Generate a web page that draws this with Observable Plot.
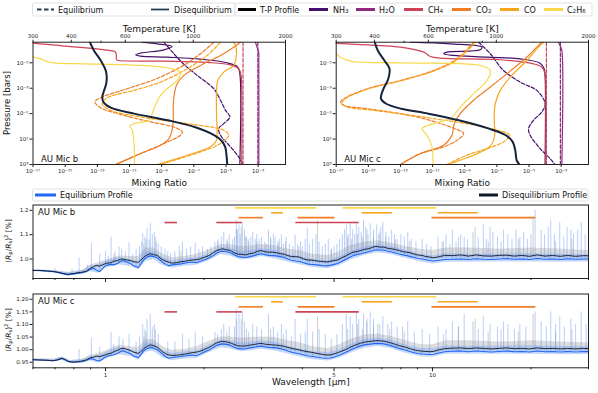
<!DOCTYPE html>
<html><head><meta charset="utf-8">
<script src="https://cdn.jsdelivr.net/npm/d3@7"></script>
<script src="https://cdn.jsdelivr.net/npm/@observablehq/plot@0.6"></script>
<style>
body{margin:0;background:#fff;font-family:"DejaVu Sans",sans-serif;}
#root{position:relative;width:598px;height:393px;overflow:hidden;background:#fff;}
#root svg{position:absolute;left:0;top:0;}
</style></head><body><div id="root"></div>
<script>
// ---------- DATA: top panels (pairs [log10 P(bar), log10 mixing ratio]; T-P pairs [log10 P, T(K)]) ----------
const b_TP=[[-6.62,460],[-5.97,474],[-5.18,499],[-4.40,518],[-3.88,522],[-3.35,520],[-2.83,512],[-2.31,505],[-1.92,509],[-1.47,538],[-1.0,642],[-0.48,825],[0.05,1010],[0.70,1173],[1.09,1233],[1.61,1271],[2.14,1282],[3.0,1291]];
const b_NH3_dis=[[-6.62,-10.21],[-6.49,-9.28],[-6.28,-8.35],[-6.02,-8.86],[-5.76,-10.31],[-5.63,-10.62],[-5.52,-10.31],[-5.44,-8.66],[-5.29,-6.59],[-5.0,-4.93],[-4.66,-4.27],[-4.14,-4.14],[3,-4.14]];
const b_NH3_eq=[[-6.62,-8.86],[-5.71,-8.24],[-5.0,-7.72],[-4.01,-6.79],[-2.96,-5.76],[-2.05,-5.34],[-1.26,-5.03],[-0.74,-4.76],[-0.22,-5.14],[0.18,-5.45],[0.70,-5.34],[1.61,-4.72],[2.40,-4.21],[3,-3.94]];
const b_H2O_dis=[[-6.62,-3.17],[-6.23,-3.07],[-5.84,-2.97],[-5.2,-2.96],[3,-2.96]];
const b_H2O_eq=[[-6.62,-3.02],[3,-3.02]];
const b_CH4_dis=[[-6.62,-17.3],[-6.54,-16.94],[-5.92,-11.97],[-5.84,-11.87],[-5.6,-11.82],[-5.24,-11.80],[-5.18,-11.66],[-5.13,-8.66],[-5.03,-6.17],[-4.84,-4.72],[-4.53,-4.21],[-4.01,-4.06],[-3.09,-4.02],[3,-4.02]];
const b_CH4_eq=[[-6.62,-3.94],[3,-3.94]];
const b_CO2_dis=[[3,-11.87],[2.14,-10.31],[1.48,-9.07],[0.96,-8.55],[0.31,-8.35],[-0.48,-8.28],[-1.52,-8.28],[-2.31,-8.24],[-3.35,-8.04],[-4.01,-7.62],[-4.79,-6.59],[-5.58,-5.34],[-6.23,-4.52],[-6.62,-4.10]];
const b_CO2_eq=[[-6.62,-5.76],[-5.71,-6.59],[-4.66,-7.83],[-3.67,-9.48],[-2.96,-11.14],[-2.25,-12.80],[-1.92,-13.15],[-1.47,-12.80],[-0.87,-11.35],[-0.35,-9.69],[0.10,-8.14],[0.44,-7.72],[0.70,-7.83],[1.35,-8.86],[2.14,-10.31],[3,-11.87]];
const b_CO_dis=[[3,-9.28],[2.27,-7.41],[1.61,-5.96],[1.09,-5.59],[0.31,-5.55],[-1.0,-5.59],[-2.57,-5.59],[-3.61,-5.51],[-4.27,-5.14],[-4.79,-4.52],[-5.71,-4.35],[-6.36,-4.41],[-6.62,-4.52]];
const b_CO_eq=[[-6.62,-5.34],[-5.58,-6.17],[-4.53,-7.41],[-3.48,-9.07],[-2.83,-10.73],[-2.25,-12.38],[-1.78,-12.69],[-1.26,-12.18],[-0.74,-10.31],[-0.22,-7.41],[0.31,-5.14],[0.70,-4.83],[1.35,-5.34],[2.01,-6.59],[3,-9.07]];
const b_C2H6_dis=[[-5.5,-17.5],[-5.44,-17],[-5.31,-16.52],[-5.08,-16.11],[-4.97,-15.59],[-4.92,-13.83],[-4.82,-10.73],[-4.61,-8.66],[-4.27,-7.83],[-3.61,-8.04],[-3.09,-8.55],[-2.44,-9.07],[-1.52,-9.44],[-0.48,-9.80],[-0.22,-10.73],[-0.01,-10.98],[0.31,-10.83],[1.09,-10.73],[2.14,-10.69],[3,-10.69]];

const c_TP=[[-6.62,401],[-5.97,410],[-5.18,431],[-4.53,448],[-3.75,444],[-2.83,426],[-2.18,420],[-1.78,437],[-1.39,489],[-1.0,600],[-0.48,754],[0.18,946],[0.70,1074],[1.22,1131],[1.88,1153],[2.66,1165],[3,1189]];
const c_NH3_dis=[[-6.62,-12.38],[-6.49,-9.90],[-6.23,-7.93],[-6.02,-8.04],[-5.84,-10.11],[-5.71,-10.31],[-5.60,-9.90],[-5.44,-7.62],[-5.31,-5.55],[-4.97,-4.31],[-4.53,-4.06],[-3.88,-4.0],[3,-4.0]];
const c_NH3_eq=[[-6.62,-8.14],[-5.71,-7.41],[-4.40,-6.59],[-3.48,-5.55],[-2.83,-4.52],[-2.05,-4.06],[-1.65,-4.0],[-1.13,-4.21],[-0.48,-4.72],[0.18,-5.03],[0.70,-4.93],[1.75,-4.31],[2.53,-3.69],[3,-3.38]];
const c_H2O_dis=[[-6.62,-3.17],[-6.3,-3.05],[-5.97,-2.96],[3,-2.96]];
const c_H2O_eq=[[-6.62,-3.05],[3,-3.05]];
const c_CH4_dis=[[-6.62,-17.3],[-6.54,-17],[-6.23,-13.0],[-5.84,-11.55],[-5.50,-11.14],[-5.37,-10.52],[-5.24,-6.79],[-4.92,-4.72],[-4.66,-4.21],[-4.14,-4.0],[-3.09,-3.96],[3,-3.96]];
const c_CH4_eq=[[-6.62,-3.92],[3,-3.92]];
const c_CO2_dis=[[3,-13.0],[2.14,-11.76],[1.48,-10.31],[0.70,-9.80],[-0.22,-9.65],[-1.0,-9.28],[-2.05,-8.45],[-3.09,-7.41],[-4.14,-6.38],[-5.44,-5.14],[-6.23,-4.52],[-6.62,-4.21]];
const c_CO2_eq=[[-6.62,-8.45],[-5.31,-9.48],[-4.40,-10.93],[-3.61,-13.0],[-2.96,-15.07],[-2.18,-16.52],[-1.92,-16.73],[-1.65,-16.52],[-1.39,-15.07],[-0.74,-11.97],[0.05,-9.90],[0.57,-9.07],[1.09,-9.48],[1.61,-10.31],[2.14,-11.76],[3,-13.0]];
const c_CO_dis=[[3,-10.11],[2.27,-8.45],[1.56,-7.41],[0.70,-7.14],[-0.48,-7.17],[-1.78,-7.10],[-2.83,-6.79],[-3.88,-6.17],[-5.18,-5.14],[-6.10,-4.52],[-6.49,-4.21],[-6.62,-4.10]];
const c_CO_eq=[[-6.62,-8.35],[-5.31,-9.38],[-4.40,-10.83],[-3.61,-12.9],[-2.96,-14.97],[-2.18,-16.42],[-1.78,-16.63],[-1.52,-16.32],[-1.26,-14.66],[-0.61,-10.93],[0.05,-7.83],[0.70,-6.21],[1.22,-6.59],[1.75,-7.62],[2.27,-8.86],[3,-10.11]];
const c_C2H6_dis=[[-5.8,-17.5],[-5.71,-17],[-5.44,-16.73],[-5.13,-16.11],[-5.03,-15.07],[-4.97,-10.93],[-4.79,-8.04],[-4.40,-7.41],[-3.61,-7.62],[-2.57,-8.45],[-1.52,-9.28],[-0.61,-9.90],[-0.22,-10.93],[0.18,-11.66],[0.70,-11.35],[1.61,-11.04],[3,-10.98]];

const mrTicks=[1e-17,1e-15,1e-13,1e-11,1e-9,1e-7,1e-5,1e-3];
const pTicks=[1e-5,1e-3,1e-1,1e1,1e3];
const tTicks=[300,400,600,1000,2000];
const tMinor=[500,900];

// ---------- DATA: spectra (pairs [wavelength µm, (Rp/Rs)^2 %]) ----------
const b_dis=[[0.60,.953],[0.63,.953],[0.66,.951],[0.69,.949],[0.715,.946],[0.74,.941],[0.765,.937],[0.78,.939],[0.80,.940],[0.82,.944],[0.84,.945],[0.86,.948],[0.875,.950],[0.89,.958],[0.90,.962],[0.92,.969],[0.936,.974],[0.96,.971],[0.99,.979],[1.01,.983],[1.04,.985],[1.06,.991],[1.09,.994],[1.11,.999],[1.13,1.000],[1.16,.996],[1.19,.994],[1.22,.989],[1.26,.987],[1.29,.999],[1.31,1.008],[1.34,1.017],[1.37,1.022],[1.40,1.018],[1.44,1.015],[1.47,1.004],[1.50,.996],[1.53,.991],[1.56,.987],[1.60,.983],[1.65,.985],[1.70,.989],[1.74,.990],[1.79,.994],[1.84,.996],[1.89,.997],[1.94,1.000],[2.00,1.007],[2.08,1.015],[2.14,1.027],[2.19,1.035],[2.24,1.039],[2.28,1.042],[2.34,1.038],[2.41,1.035],[2.47,1.026],[2.54,1.020],[2.61,1.019],[2.69,1.017],[2.76,1.022],[2.83,1.024],[2.91,1.031],[2.99,1.035],[3.07,1.030],[3.16,1.028],[3.24,1.028],[3.33,1.026],[3.42,1.022],[3.52,1.020],[3.61,1.014],[3.71,1.010],[3.81,1.010],[3.92,1.008],[4.03,1.001],[4.14,.996],[4.25,.996],[4.36,.994],[4.48,.991],[4.61,.990],[4.73,.988],[4.86,.990],[5.0,.994],[5.13,.996],[5.27,1.005],[5.42,1.012],[5.57,1.021],[5.72,1.028],[5.88,1.031],[6.04,1.035],[6.2,1.040],[6.37,1.042],[6.55,1.048],[6.72,1.052],[6.9,1.049],[7.1,1.049],[7.3,1.044],[7.49,1.042],[7.7,1.039],[7.91,1.035],[8.13,1.030],[8.35,1.028],[8.58,1.025],[8.81,1.020],[9.05,1.016],[9.3,1.015],[9.55,1.010],[9.81,1.008],[10.08,1.005],[10.36,1.008],[10.9,1.015],[11.5,1.014],[12.2,1.017],[12.9,1.012],[13.6,1.017],[14.3,1.013],[15.1,1.012],[16.0,1.015],[16.8,1.016],[17.8,1.012],[18.8,1.015],[19.8,1.011],[20.9,1.017],[22.1,1.012],[23.3,1.015],[24.6,1.011],[25.9,1.015],[27.4,1.011],[29,1.014],[30,1.013]];
const b_eq=[[0.60,.953],[0.63,.953],[0.66,.951],[0.69,.949],[0.715,.945],[0.74,.940],[0.765,.936],[0.78,.937],[0.80,.939],[0.82,.941],[0.84,.943],[0.86,.946],[0.875,.949],[0.89,.955],[0.90,.958],[0.92,.962],[0.936,.955],[0.96,.948],[0.99,.968],[1.01,.975],[1.04,.978],[1.06,.976],[1.09,.983],[1.11,.990],[1.13,.994],[1.16,.988],[1.19,.982],[1.22,.972],[1.26,.965],[1.29,.985],[1.31,.998],[1.34,1.008],[1.37,1.013],[1.40,1.010],[1.44,1.005],[1.47,.995],[1.50,.985],[1.53,.978],[1.56,.972],[1.60,.976],[1.65,.978],[1.70,.980],[1.74,.983],[1.79,.986],[1.84,.988],[1.89,.985],[1.94,.990],[2.00,.996],[2.08,1.005],[2.14,1.015],[2.19,1.025],[2.24,1.030],[2.28,1.032],[2.34,1.030],[2.41,1.026],[2.47,1.018],[2.54,1.010],[2.61,1.008],[2.69,1.006],[2.76,1.010],[2.83,1.013],[2.91,1.018],[2.99,1.022],[3.07,1.018],[3.16,1.015],[3.24,1.014],[3.33,1.013],[3.42,1.010],[3.52,1.006],[3.61,1.000],[3.71,.995],[3.81,.992],[3.92,.990],[4.03,.985],[4.14,.980],[4.25,.978],[4.36,.977],[4.48,.975],[4.61,.973],[4.73,.972],[4.86,.974],[5.0,.978],[5.13,.982],[5.27,.990],[5.42,.998],[5.57,1.006],[5.72,1.014],[5.88,1.019],[6.04,1.022],[6.2,1.026],[6.37,1.030],[6.55,1.034],[6.72,1.038],[6.9,1.037],[7.1,1.036],[7.3,1.032],[7.49,1.029],[7.7,1.025],[7.91,1.021],[8.13,1.017],[8.35,1.014],[8.58,1.010],[8.81,1.006],[9.05,1.002],[9.3,1.000],[9.55,.997],[9.81,.994],[10.08,.992],[10.36,.994],[10.9,.998],[11.5,.999],[12.2,1.000],[12.9,.998],[13.6,1.001],[14.3,.999],[15.1,.998],[16.0,1.000],[16.8,1.002],[17.8,.999],[18.8,1.000],[19.8,.998],[20.9,1.002],[22.1,.999],[23.3,1.000],[24.6,.998],[25.9,1.001],[27.4,.999],[29,1.000],[30,1.000]];
const c_dis=[[0.60,.960],[0.63,.959],[0.66,.958],[0.69,.956],[0.715,.960],[0.735,.966],[0.75,.962],[0.765,.955],[0.78,.952],[0.80,.951],[0.82,.952],[0.84,.954],[0.86,.957],[0.875,.960],[0.89,.965],[0.90,.968],[0.92,.970],[0.936,.975],[0.96,.972],[0.99,.978],[1.01,.982],[1.04,.986],[1.06,.992],[1.09,.998],[1.11,1.003],[1.13,1.006],[1.16,1.002],[1.19,.997],[1.22,.990],[1.26,.985],[1.29,.995],[1.31,1.005],[1.34,1.013],[1.37,1.019],[1.40,1.016],[1.44,1.010],[1.47,1.000],[1.50,.990],[1.53,.983],[1.56,.979],[1.60,.977],[1.65,.978],[1.70,.980],[1.74,.982],[1.79,.985],[1.84,.988],[1.89,.990],[1.94,.993],[2.00,1.000],[2.08,1.010],[2.14,1.020],[2.19,1.027],[2.24,1.031],[2.28,1.033],[2.34,1.031],[2.41,1.027],[2.47,1.021],[2.54,1.015],[2.61,1.014],[2.69,1.015],[2.76,1.018],[2.83,1.020],[2.91,1.023],[2.99,1.025],[3.07,1.022],[3.16,1.020],[3.24,1.019],[3.33,1.018],[3.42,1.016],[3.52,1.013],[3.61,1.009],[3.71,1.005],[3.81,1.002],[3.92,.999],[4.03,.995],[4.14,.992],[4.25,.990],[4.36,.987],[4.48,.984],[4.61,.981],[4.73,.979],[4.86,.979],[5.0,.983],[5.13,.988],[5.27,.994],[5.42,1.000],[5.57,1.008],[5.72,1.015],[5.88,1.021],[6.04,1.026],[6.2,1.030],[6.37,1.032],[6.55,1.034],[6.72,1.036],[6.9,1.035],[7.1,1.034],[7.3,1.030],[7.49,1.026],[7.7,1.021],[7.91,1.016],[8.13,1.012],[8.35,1.008],[8.58,1.003],[8.81,.999],[9.05,.996],[9.3,.994],[9.55,.993],[9.81,.992],[10.08,.993],[10.36,.998],[10.9,1.004],[11.5,1.006],[12.2,1.007],[12.9,1.004],[13.6,1.007],[14.3,1.005],[15.1,1.003],[16.0,1.005],[16.8,1.007],[17.8,1.004],[18.8,1.005],[19.8,1.003],[20.9,1.007],[22.1,1.004],[23.3,1.005],[24.6,1.003],[25.9,1.005],[27.4,1.003],[29,1.005],[30,1.004]];
const c_eq=[[0.60,.960],[0.63,.959],[0.66,.958],[0.69,.956],[0.715,.959],[0.735,.965],[0.75,.961],[0.765,.954],[0.78,.951],[0.80,.950],[0.82,.951],[0.84,.952],[0.86,.955],[0.875,.958],[0.89,.962],[0.90,.964],[0.92,.962],[0.936,.958],[0.96,.955],[0.99,.968],[1.01,.974],[1.04,.978],[1.06,.980],[1.09,.986],[1.11,.992],[1.13,.996],[1.16,.990],[1.19,.984],[1.22,.975],[1.26,.968],[1.29,.984],[1.31,.996],[1.34,1.004],[1.37,1.009],[1.40,1.006],[1.44,1.000],[1.47,.990],[1.50,.980],[1.53,.972],[1.56,.966],[1.60,.969],[1.65,.971],[1.70,.973],[1.74,.975],[1.79,.977],[1.84,.979],[1.89,.976],[1.94,.982],[2.00,.990],[2.08,1.000],[2.14,1.010],[2.19,1.017],[2.24,1.021],[2.28,1.023],[2.34,1.021],[2.41,1.017],[2.47,1.010],[2.54,1.004],[2.61,1.003],[2.69,1.004],[2.76,1.007],[2.83,1.009],[2.91,1.012],[2.99,1.014],[3.07,1.011],[3.16,1.009],[3.24,1.008],[3.33,1.007],[3.42,1.004],[3.52,1.000],[3.61,.995],[3.71,.990],[3.81,.987],[3.92,.984],[4.03,.980],[4.14,.976],[4.25,.974],[4.36,.972],[4.48,.969],[4.61,.967],[4.73,.966],[4.86,.967],[5.0,.971],[5.13,.976],[5.27,.982],[5.42,.989],[5.57,.997],[5.72,1.004],[5.88,1.010],[6.04,1.015],[6.2,1.019],[6.37,1.021],[6.55,1.023],[6.72,1.025],[6.9,1.024],[7.1,1.023],[7.3,1.019],[7.49,1.015],[7.7,1.010],[7.91,1.005],[8.13,1.001],[8.35,.997],[8.58,.992],[8.81,.988],[9.05,.985],[9.3,.983],[9.55,.982],[9.81,.981],[10.08,.982],[10.36,.986],[10.9,.992],[11.5,.994],[12.2,.995],[12.9,.992],[13.6,.995],[14.3,.993],[15.1,.991],[16.0,.993],[16.8,.995],[17.8,.992],[18.8,.993],[19.8,.991],[20.9,.995],[22.1,.992],[23.3,.993],[24.6,.991],[25.9,.993],[27.4,.991],[29,.993],[30,.992]];
// high-resolution envelopes [wavelength, low, high]
const b_disEnv=[[0.6,.950,.956],[0.7,.944,.952],[0.77,.933,.945],[0.85,.942,.955],[0.9,.955,.975],[0.95,.963,.985],[1.0,.972,.995],[1.1,.985,1.012],[1.2,.983,1.01],[1.26,.978,1.01],[1.33,1.0,1.045],[1.4,1.008,1.045],[1.5,.988,1.02],[1.6,.976,1.005],[1.75,.982,1.01],[1.9,.99,1.02],[2.05,1.0,1.035],[2.25,1.03,1.06],[2.4,1.025,1.06],[2.6,1.01,1.05],[2.8,1.012,1.055],[3.0,1.025,1.06],[3.3,1.016,1.055],[3.6,1.004,1.04],[3.9,.998,1.035],[4.3,.985,1.02],[4.8,.98,1.015],[5.2,.99,1.03],[5.6,1.01,1.055],[6.2,1.03,1.07],[6.8,1.04,1.075],[7.5,1.032,1.065],[8.3,1.018,1.05],[9.2,1.005,1.04],[10,.998,1.035],[11,1.004,1.045],[13,1.004,1.045],[16,1.004,1.04],[20,1.004,1.045],[25,1.003,1.04],[30,1.004,1.035]];
const b_eqEnv=[[0.6,.949,.956],[0.7,.942,.952],[0.77,.930,.944],[0.85,.937,.952],[0.9,.948,.97],[0.95,.942,.975],[1.0,.962,.99],[1.1,.975,1.005],[1.2,.968,.998],[1.26,.955,.985],[1.33,.99,1.03],[1.4,.998,1.03],[1.5,.972,1.005],[1.6,.962,.992],[1.75,.97,1.0],[1.9,.974,1.005],[2.05,.99,1.02],[2.25,1.018,1.048],[2.4,1.012,1.045],[2.6,.996,1.03],[2.8,1.0,1.035],[3.0,1.01,1.042],[3.3,1.0,1.035],[3.6,.988,1.02],[3.9,.978,1.01],[4.3,.965,.998],[4.8,.96,.993],[5.2,.972,1.008],[5.6,.995,1.03],[6.2,1.014,1.048],[6.8,1.026,1.058],[7.5,1.018,1.05],[8.3,1.002,1.035],[9.2,.988,1.02],[10,.98,1.012],[11,.987,1.022],[13,.987,1.02],[16,.988,1.02],[20,.988,1.022],[25,.987,1.02],[30,.988,1.018]];
const c_disEnv=[[0.6,.957,.963],[0.7,.954,.962],[0.735,.96,.972],[0.78,.948,.957],[0.85,.95,.962],[0.9,.96,.978],[0.95,.965,.985],[1.0,.972,.995],[1.1,.99,1.018],[1.2,.988,1.012],[1.26,.976,1.008],[1.33,1.0,1.04],[1.4,1.005,1.04],[1.5,.982,1.012],[1.6,.97,.998],[1.75,.974,1.002],[1.9,.982,1.012],[2.05,.995,1.03],[2.25,1.02,1.05],[2.4,1.017,1.05],[2.6,1.005,1.045],[2.8,1.01,1.048],[3.0,1.015,1.05],[3.3,1.008,1.048],[3.6,.998,1.035],[3.9,.99,1.028],[4.3,.978,1.012],[4.8,.97,1.005],[5.2,.982,1.02],[5.6,1.0,1.04],[6.2,1.02,1.058],[6.8,1.026,1.062],[7.5,1.018,1.052],[8.3,1.0,1.035],[9.2,.985,1.02],[10,.984,1.02],[11,.995,1.035],[13,.995,1.035],[16,.995,1.03],[20,.995,1.035],[25,.994,1.03],[30,.995,1.026]];
const c_eqEnv=[[0.6,.956,.963],[0.7,.953,.962],[0.735,.958,.97],[0.78,.945,.956],[0.85,.946,.96],[0.9,.955,.974],[0.95,.946,.975],[1.0,.962,.99],[1.1,.98,1.01],[1.2,.972,1.0],[1.26,.958,.99],[1.33,.99,1.025],[1.4,.994,1.025],[1.5,.967,.998],[1.6,.956,.985],[1.75,.963,.992],[1.9,.965,.995],[2.05,.985,1.015],[2.25,1.008,1.038],[2.4,1.004,1.035],[2.6,.992,1.025],[2.8,.996,1.03],[3.0,1.002,1.034],[3.3,.995,1.03],[3.6,.983,1.015],[3.9,.972,1.005],[4.3,.96,.992],[4.8,.955,.988],[5.2,.966,1.0],[5.6,.985,1.02],[6.2,1.006,1.04],[6.8,1.013,1.045],[7.5,1.004,1.036],[8.3,.985,1.018],[9.2,.972,1.005],[10,.97,1.004],[11,.982,1.015],[13,.982,1.014],[16,.982,1.014],[20,.982,1.016],[25,.98,1.013],[30,.981,1.012]];
// high-resolution spikes [wavelength, base, top]
const b_eqSpikes=[[0.70,.950,.962],[0.79,.938,.958],[0.83,.942,1.004],[0.88,.950,.975],[0.905,.958,1.063],[0.96,.950,1.02],[1.0,.975,1.03],[1.02,.976,1.01],[1.04,.978,1.09],[1.06,.976,1.02],[1.10,.986,1.05],[1.12,.99,1.04],[1.15,.99,1.03],[1.18,.984,1.066],[1.21,.975,1.02],[1.24,.968,1.04],[1.27,.97,1.05],[1.29,.985,1.07],[1.30,.99,1.104],[1.32,.995,1.09],[1.34,1.005,1.125],[1.36,1.01,1.08],[1.37,1.01,1.145],[1.39,1.01,1.10],[1.41,1.008,1.11],[1.43,1.005,1.07],[1.45,1.0,1.06],[1.48,.993,1.05],[1.52,.98,1.04],[1.55,.975,1.03],[1.58,.973,1.02],[1.63,.977,1.03],[1.68,.979,1.05],[1.72,.982,1.07],[1.77,.984,1.04],[1.82,.987,1.05],[1.88,.986,1.066],[1.93,.99,1.04],[1.98,.994,1.05],[2.05,1.0,1.04],[2.1,1.007,1.05],[2.16,1.018,1.07],[2.21,1.027,1.08],[2.26,1.03,1.09],[2.30,1.03,1.11],[2.36,1.03,1.07],[2.39,1.027,1.10],[2.45,1.02,1.08],[2.48,1.017,1.09],[2.51,1.012,1.159],[2.53,1.01,1.12],[2.56,1.01,1.14],[2.58,1.009,1.10],[2.62,1.008,1.15],[2.66,1.006,1.12],[2.70,1.006,1.09],[2.74,1.009,1.07],[2.78,1.011,1.09],[2.82,1.013,1.11],[2.87,1.015,1.08],[2.9,1.017,1.10],[2.95,1.02,1.08],[3.0,1.021,1.09],[3.07,1.018,1.07],[3.1,1.017,1.06],[3.15,1.015,1.118],[3.2,1.014,1.08],[3.26,1.014,1.10],[3.30,1.013,1.09],[3.36,1.012,1.07],[3.4,1.011,1.08],[3.45,1.01,1.10],[3.5,1.006,1.06],[3.57,1.003,1.09],[3.65,.998,1.06],[3.74,.994,1.05],[3.80,.992,1.097],[3.87,.991,1.06],[3.95,.99,1.07],[4.0,.986,1.05],[4.08,.983,1.08],[4.14,.98,1.125],[4.2,.979,1.06],[4.30,.978,1.08],[4.4,.976,1.10],[4.50,.975,1.07],[4.6,.973,1.05],[4.7,.972,1.06],[4.80,.972,1.08],[4.9,.975,1.04],[5.0,.978,1.05],[5.1,.981,1.06],[5.2,.986,1.08],[5.3,.99,1.10],[5.38,.994,1.12],[5.45,.998,1.14],[5.52,1.003,1.10],[5.6,1.006,1.15],[5.7,1.013,1.12],[5.78,1.016,1.10],[5.85,1.018,1.145],[5.95,1.02,1.13],[6.05,1.022,1.11],[6.15,1.024,1.159],[6.25,1.027,1.13],[6.35,1.03,1.10],[6.45,1.032,1.145],[6.6,1.035,1.12],[6.75,1.038,1.14],[6.85,1.037,1.10],[6.95,1.037,1.13],[7.05,1.036,1.15],[7.2,1.034,1.11],[7.35,1.031,1.09],[7.5,1.029,1.118],[7.65,1.025,1.10],[7.8,1.023,1.08],[8.0,1.02,1.10],[8.2,1.016,1.09],[8.4,1.014,1.11],[8.6,1.01,1.08],[8.9,1.005,1.07],[9.3,1.0,1.08],[9.6,.997,1.06],[9.9,.994,1.05],[10.4,.994,1.09],[10.7,.996,1.07],[11.0,.998,1.10],[11.5,.999,1.118],[11.8,1.0,1.07],[12.2,1.0,1.10],[12.5,1.0,1.09],[12.8,.998,1.08],[13.3,1.0,1.11],[13.8,1.0,1.09],[14.3,.999,1.14],[14.6,.999,1.08],[15.0,.998,1.13],[15.3,.998,1.11],[15.8,1.0,1.09],[16.5,1.001,1.12],[17.0,1.0,1.10],[17.5,1.0,1.08],[18.0,.999,1.12],[18.5,1.0,1.09],[19.0,1.0,1.11],[19.5,.998,1.08],[20.0,.998,1.10],[20.6,1.0,1.20],[21.5,1.0,1.12],[22.0,.999,1.10],[22.6,1.0,1.13],[23.0,1.0,1.16],[23.6,1.0,1.10],[24.5,.998,1.15],[25.2,1.0,1.09],[25.8,1.001,1.13],[26.5,1.0,1.12],[27.0,.999,1.10],[27.8,.999,1.12],[28.5,1.0,1.15],[29.3,1.0,1.10]];
const b_disSpikes=[[1.07,.992,1.03],[1.31,1.008,1.06],[1.33,1.01,1.08],[1.42,1.015,1.09],[1.7,.989,1.03],[2.2,1.035,1.07],[2.35,1.038,1.08],[2.52,1.02,1.12],[2.6,1.018,1.13],[2.68,1.017,1.09],[2.73,1.017,1.08],[2.9,1.031,1.07],[3.2,1.027,1.09],[3.38,1.024,1.06],[3.55,1.02,1.07],[3.9,1.008,1.05],[4.45,.993,1.159],[4.9,.99,1.04],[5.5,1.015,1.09],[5.65,1.025,1.08],[5.9,1.03,1.10],[6.1,1.036,1.09],[6.3,1.04,1.12],[6.6,1.048,1.09],[6.9,1.05,1.11],[7.2,1.047,1.09],[7.7,1.038,1.08],[8.5,1.026,1.07],[10.8,1.014,1.07],[11.3,1.014,1.06],[12.0,1.016,1.09],[13.5,1.016,1.13],[14.8,1.013,1.07],[16.2,1.014,1.07],[18.3,1.014,1.08],[20.3,1.016,1.17],[23.8,1.014,1.07],[26.7,1.012,1.08]];
const c_eqSpikes=[[0.72,.959,.968],[0.83,.951,1.0],[0.905,.962,1.045],[0.96,.955,1.01],[1.04,.978,1.07],[1.06,.98,1.02],[1.10,.988,1.05],[1.13,.996,1.04],[1.18,.986,1.06],[1.24,.97,1.03],[1.27,.97,1.05],[1.30,.99,1.10],[1.32,.996,1.08],[1.34,1.004,1.12],[1.37,1.009,1.14],[1.39,1.008,1.09],[1.41,1.006,1.10],[1.45,.998,1.06],[1.55,.97,1.03],[1.63,.97,1.03],[1.72,.974,1.06],[1.80,.977,1.04],[1.88,.978,1.07],[1.98,.986,1.05],[2.16,1.012,1.07],[2.26,1.022,1.08],[2.30,1.022,1.10],[2.39,1.018,1.09],[2.48,1.01,1.09],[2.51,1.005,1.16],[2.56,1.004,1.14],[2.62,1.003,1.15],[2.66,1.004,1.11],[2.74,1.006,1.07],[2.82,1.009,1.10],[2.9,1.012,1.09],[3.0,1.014,1.08],[3.15,1.009,1.14],[3.26,1.008,1.09],[3.36,1.006,1.07],[3.45,1.004,1.10],[3.57,.997,1.08],[3.70,.99,1.05],[3.80,.987,1.12],[3.95,.983,1.06],[4.08,.978,1.07],[4.14,.976,1.12],[4.3,.973,1.07],[4.50,.969,1.08],[4.7,.966,1.06],[4.9,.968,1.04],[5.1,.975,1.06],[5.3,.985,1.10],[5.45,.989,1.14],[5.6,.997,1.13],[5.7,1.004,1.10],[5.85,1.008,1.15],[5.95,1.012,1.12],[6.15,1.016,1.14],[6.3,1.02,1.11],[6.45,1.021,1.15],[6.6,1.023,1.12],[6.8,1.025,1.10],[7.05,1.023,1.13],[7.3,1.019,1.10],[7.5,1.015,1.11],[7.8,1.008,1.09],[8.1,1.001,1.09],[8.4,.997,1.11],[8.8,.988,1.07],[9.3,.983,1.08],[9.8,.981,1.06],[10.4,.986,1.09],[11.0,.993,1.08],[11.5,.994,1.11],[12.0,.995,1.09],[12.5,.995,1.14],[13.3,.994,1.11],[13.8,.995,1.08],[14.3,.993,1.13],[15.0,.991,1.10],[15.8,.993,1.09],[16.5,.995,1.11],[17.0,.995,1.10],[17.8,.992,1.08],[18.5,.993,1.10],[19.3,.991,1.09],[20.6,.995,1.15],[21.5,.995,1.11],[22.3,.992,1.09],[23.0,.993,1.15],[23.8,.993,1.10],[24.5,.992,1.13],[25.3,.993,1.09],[26.5,.993,1.12],[27.4,.991,1.10],[28.5,.993,1.15],[29.5,.993,1.10]];
const c_disSpikes=[[1.31,1.005,1.05],[1.33,1.013,1.07],[1.42,1.012,1.08],[2.2,1.027,1.06],[2.35,1.031,1.07],[2.52,1.015,1.12],[2.6,1.014,1.12],[2.7,1.015,1.08],[3.2,1.02,1.08],[3.5,1.013,1.06],[4.45,.985,1.13],[5.5,1.005,1.08],[5.9,1.022,1.10],[6.1,1.027,1.08],[6.3,1.03,1.12],[6.6,1.034,1.09],[6.9,1.035,1.10],[7.4,1.028,1.08],[8.2,1.01,1.07],[10.8,1.004,1.06],[12.0,1.007,1.09],[13.5,1.007,1.12],[14.8,1.004,1.07],[16.2,1.005,1.08],[18.3,1.005,1.07],[20.3,1.007,1.14],[23.8,1.005,1.07],[26.7,1.003,1.08]];
// molecular band markers [start µm, end µm]
const bandCH4=[[1.52,1.66],[2.19,2.62],[3.82,5.97]];
const bandCO2=[[2.56,3.04],[3.88,5.03],[9.96,20.7]];
const bandCO=[[3.22,3.50],[6.09,7.54],[10.4,13.8]];
const bandC2H6=[[2.50,4.42],[5.33,10.3]];
const bandLevels={CH4:1.15,CO2:1.17,CO:1.19,C2H6:1.21};
const bTicks=[1.0,1.1,1.2];
const cTicks=[0.95,1.00,1.05,1.10,1.15,1.20];
const wlMajor=[1,5,10];
const wlMinor=[0.6,0.7,0.8,0.9,2,3,4,6,7,8,9,20,30];

// ---------- styling ----------
const COL={NH3:"#45106b",H2O:"#8f2a7e",CH4:"#cc4356",CO2:"#f07c26",CO:"#f8a51e",C2H6:"#f8d849"};
const TPCOL="#15243a", DISCOL="#2a3d52", EQBLUE="#1f66f2";
const W=598,H=393;
const root=document.getElementById("root");
const FONT="DejaVu Sans, sans-serif";
const style={background:"transparent",fontFamily:FONT,fontSize:"5.5px",color:"#222",overflow:"visible"};
const SUP={"0":"⁰","1":"¹","2":"²","3":"³","4":"⁴","5":"⁵","6":"⁶","7":"⁷","8":"⁸","9":"⁹","-":"⁻"};
const fmtExp=d=>"10"+String(Math.round(Math.log10(d))).split("").map(c=>SUP[c]).join("");
function add(el){el.style.position="absolute";el.style.left="0px";el.style.top="0px";root.appendChild(el);}

const sets={
 b:{TP:b_TP,NH3:[b_NH3_eq,b_NH3_dis],H2O:[b_H2O_eq,b_H2O_dis],CH4:[b_CH4_eq,b_CH4_dis],CO2:[b_CO2_eq,b_CO2_dis],CO:[b_CO_eq,b_CO_dis],C2H6:[null,b_C2H6_dis]},
 c:{TP:c_TP,NH3:[c_NH3_eq,c_NH3_dis],H2O:[c_H2O_eq,c_H2O_dis],CH4:[c_CH4_eq,c_CH4_dis],CO2:[c_CO2_eq,c_CO2_dis],CO:[c_CO_eq,c_CO_dis],C2H6:[null,c_C2H6_dis]}
};
const TOP=41.7, BOT=164;
function topPanel(L,R,set,name){
  const common={width:W,height:H,marginLeft:L,marginRight:W-R,marginTop:TOP,marginBottom:H-BOT,style};
  const yOpt={type:"log",domain:[10**-6.62,1e3],reverse:true,axis:null};
  const marks=[];
  for(const k of ["NH3","H2O","CH4","CO2","CO","C2H6"]){
    const [eq,dis]=set[k];
    if(eq) marks.push(Plot.line(eq,{x:d=>10**d[1],y:d=>10**d[0],stroke:COL[k],strokeWidth:1.2,strokeDasharray:"3.6,1.8",curve:"catmull-rom",clip:true}));
    marks.push(Plot.line(dis,{x:d=>10**d[1],y:d=>10**d[0],stroke:COL[k],strokeWidth:1.2,curve:"catmull-rom",clip:true}));
  }
  marks.push(
    Plot.frame({stroke:"#222",strokeWidth:1}),
    Plot.axisX({anchor:"bottom",ticks:mrTicks,tickFormat:fmtExp,tickSize:3,tickPadding:1.5,label:null}),
    Plot.axisY({anchor:"left",ticks:pTicks,tickFormat:fmtExp,tickSize:3,tickPadding:1.5,label:null}),
    Plot.text([name],{frameAnchor:"bottom-left",dx:8,dy:-3,fontSize:8.5,fill:"#111"}),
    Plot.text(["Mixing Ratio"],{frameAnchor:"bottom",dy:21,fontSize:9,fill:"#111"})
  );
  add(Plot.plot({...common,x:{type:"log",domain:[1e-17,10**-1.3],axis:null},y:yOpt,marks}));
  add(Plot.plot({...common,x:{type:"log",domain:[300,2000],axis:null},y:yOpt,marks:[
    Plot.line(set.TP,{x:d=>d[1],y:d=>10**d[0],stroke:TPCOL,strokeWidth:2,curve:"catmull-rom",clip:true}),
    Plot.axisX({anchor:"top",ticks:tTicks,tickFormat:d=>String(d),tickSize:3,tickPadding:1.5,label:null}),
    Plot.axisX({anchor:"top",ticks:tMinor,tickFormat:()=>"",tickSize:2,label:null}),
    Plot.text(["Temperature [K]"],{frameAnchor:"top",dy:-17,fontSize:9,fill:"#111"})
  ]}));
}
topPanel(32.5,285,sets.b,"AU Mic b");
topPanel(335.7,588,sets.c,"AU Mic c");

function specPanel(T,B,dom,ticks,fmt,eq,dis,envE,envD,spE,spD,name,showX){
  const bandMarks=[];
  for(const [k,arr] of [["CH4",bandCH4],["CO2",bandCO2],["CO",bandCO],["C2H6",bandC2H6]]){
    bandMarks.push(Plot.ruleY(arr,{x1:d=>d[0],x2:d=>d[1],y:()=>bandLevels[k],stroke:COL[k],strokeWidth:1.6}));
  }
  const marks=[
    Plot.areaY(envD,{x:d=>d[0],y1:d=>d[1],y2:d=>d[2],fill:"#b4b4b4",fillOpacity:0.45,clip:true}),
    Plot.ruleX(spD,{x:d=>d[0],y1:d=>d[1],y2:d=>d[2],stroke:"#8c8c8c",strokeOpacity:0.55,strokeWidth:0.8}),
    Plot.areaY(envE,{x:d=>d[0],y1:d=>d[1],y2:d=>d[2],fill:"#7ea8f7",fillOpacity:0.45,clip:true}),
    Plot.ruleX(spE,{x:d=>d[0],y1:d=>d[1],y2:d=>d[2],stroke:"#5b8ef2",strokeOpacity:0.55,strokeWidth:0.8}),
    Plot.line(eq,{x:d=>d[0],y:d=>d[1],stroke:EQBLUE,strokeWidth:1.1,clip:true}),
    Plot.line(dis,{x:d=>d[0],y:d=>d[1],stroke:"#101826",strokeWidth:0.9,clip:true}),
    ...bandMarks,
    Plot.frame({stroke:"#222",strokeWidth:1}),
    Plot.axisY({anchor:"left",ticks,tickFormat:fmt,tickSize:3,tickPadding:1.5,label:null}),
    Plot.axisX({anchor:"bottom",ticks:wlMajor,tickFormat:showX?(d=>String(d)):()=>"",tickSize:4,tickPadding:1.5,label:null}),
    Plot.axisX({anchor:"bottom",ticks:wlMinor,tickFormat:()=>"",tickSize:2,label:null}),
    Plot.text([name],{frameAnchor:"top-left",dx:5,dy:4,fontSize:8.5,fill:"#111"})
  ];
  if(showX) marks.push(Plot.text(["Wavelength [μm]"],{frameAnchor:"bottom",dy:17,fontSize:9,fill:"#111"}));
  add(Plot.plot({width:W,height:H,marginLeft:32.5,marginRight:10,marginTop:T,marginBottom:H-B,style,
    x:{type:"log",domain:[0.6,30],axis:null},y:{domain:dom,axis:null},marks}));
}
specPanel(204.5,278,[0.92,1.222],bTicks,d3.format(".1f"),b_eq,b_dis,b_eqEnv,b_disEnv,b_eqSpikes,b_disSpikes,"AU Mic b",false);
specPanel(293.5,367.3,[0.928,1.221],cTicks,d3.format(".2f"),c_eq,c_dis,c_eqEnv,c_disEnv,c_eqSpikes,c_disSpikes,"AU Mic c",true);

// ---------- legends and rotated labels ----------
const ov=d3.create("svg").attr("width",W).attr("height",H).style("font-family",FONT);
function txt(x,y,parts,size,anchor){
  const t=ov.append("text").attr("x",x).attr("y",y).attr("font-size",size).attr("fill","#111").attr("dominant-baseline","middle").attr("text-anchor",anchor||"start");
  for(const p of parts){
    if(typeof p==="string") t.append("tspan").text(p);
    else { const s=t.append("tspan").text(p[0]).attr("font-size",size*0.7);
      if(p[1]==="sub") s.attr("baseline-shift","-25%"); else if(p[1]==="sup") s.attr("baseline-shift","45%"); else if(p[1]==="it"){s.attr("font-size",size).attr("font-style","italic");} }
  }
  return t;
}
function box(x0,y0,x1,y1){ov.append("rect").attr("x",x0).attr("y",y0).attr("width",x1-x0).attr("height",y1-y0).attr("rx",2).attr("fill","white").attr("fill-opacity",0.85).attr("stroke","#d9d9d9").attr("stroke-width",0.8);}
function sw(x0,x1,y,c,w,dash){const l=ov.append("line").attr("x1",x0).attr("x2",x1).attr("y1",y).attr("y2",y).attr("stroke",c).attr("stroke-width",w);if(dash)l.attr("stroke-dasharray",dash);}
const LY=9.5;
box(32.5,3,235,16); box(235,3,592,16);
sw(37,54,LY,DISCOL,1.8,"4.5,2.5"); txt(58,LY,["Equilibrium"],8);
sw(151,169,LY,DISCOL,1.8); txt(174,LY,["Disequilibrium"],8);
sw(238,256,LY,"#000",3); txt(260,LY,["T-P Profile"],8);
sw(309,328,LY,COL.NH3,3); txt(333,LY,["NH",["3","sub"]],8);
sw(356,375,LY,COL.H2O,3); txt(379,LY,["H",["2","sub"],"O"],8);
sw(404,423,LY,COL.CH4,3); txt(428,LY,["CH",["4","sub"]],8);
sw(452,471,LY,COL.CO2,3); txt(476,LY,["CO",["2","sub"]],8);
sw(500,519,LY,COL.CO,3); txt(524,LY,["CO"],8);
sw(544,563,LY,COL.C2H6,3); txt(567,LY,["C",["2","sub"],"H",["6","sub"]],8);
const BY=195;
box(32.5,189,588,201);
sw(35,56,BY,EQBLUE,3); txt(60,BY,["Equilibrium Profile"],8);
sw(479,498,BY,"#101826",3); txt(502,BY,["Disequilibrium Profile"],8);
txt(0,0,["Pressure [bars]"],8.5,"middle").attr("transform","translate(7,103) rotate(-90)");
for(const yc of [241,330]){
  txt(0,0,["(",["R","it"],["p","sub"],"/",["R","it"],["s","sub"],")",["2","sup"]," [%]"],7.5,"middle").attr("transform",`translate(9,${yc}) rotate(-90)`);
}
add(ov.node());
</script></body></html>
